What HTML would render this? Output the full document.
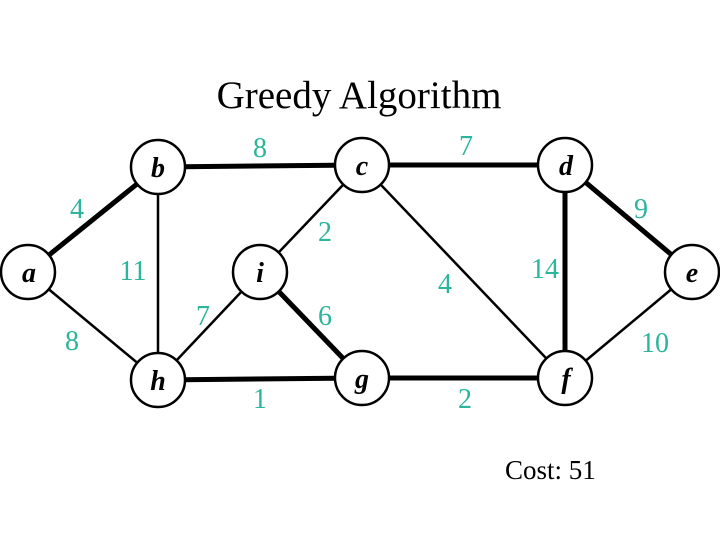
<!DOCTYPE html>
<html><head><meta charset="utf-8"><style>
html,body{margin:0;padding:0;background:#fff}
svg{display:block}
.t{font-family:"Liberation Serif",serif;fill:#2bb59a;font-size:28px}
.n{font-family:"Liberation Serif",serif;font-weight:bold;font-style:italic;font-size:28px;fill:#000}
</style></head><body>
<svg width="720" height="540" viewBox="0 0 720 540">
<text x="359" y="108" text-anchor="middle" font-family="Liberation Serif,serif" font-size="39">Greedy Algorithm</text>
<g stroke="#000" stroke-linecap="round">
<g stroke-width="5">
<line x1="28" y1="272" x2="158" y2="167"/>
<line x1="158" y1="167" x2="362" y2="165"/>
<line x1="362" y1="165" x2="565" y2="165"/>
<line x1="565" y1="165" x2="692" y2="272"/>
<line x1="565" y1="165" x2="565" y2="378"/>
<line x1="260" y1="272" x2="362" y2="378"/>
<line x1="158" y1="380" x2="362" y2="378"/>
<line x1="362" y1="378" x2="565" y2="378"/>
</g>
<g stroke-width="2.5">
<line x1="28" y1="272" x2="158" y2="380"/>
<line x1="158" y1="167" x2="158" y2="380"/>
<line x1="260" y1="272" x2="362" y2="165"/>
<line x1="260" y1="272" x2="158" y2="380"/>
<line x1="362" y1="165" x2="565" y2="378"/>
<line x1="565" y1="378" x2="692" y2="272"/>
</g>
</g>
<g fill="#fff" stroke="#000" stroke-width="2.5">
<ellipse cx="28" cy="272" rx="27" ry="27"/>
<ellipse cx="158" cy="167" rx="27" ry="27"/>
<ellipse cx="362" cy="165" rx="27" ry="27"/>
<ellipse cx="565" cy="165" rx="27" ry="27"/>
<ellipse cx="692" cy="272" rx="27" ry="27"/>
<ellipse cx="260" cy="272" rx="27" ry="27"/>
<ellipse cx="158" cy="380" rx="27" ry="27"/>
<ellipse cx="362" cy="378" rx="27" ry="27"/>
<ellipse cx="565" cy="378" rx="27" ry="27"/>
</g>
<g class="n" text-anchor="middle">
<text x="29" y="282" class="n">a</text>
<text x="158" y="177" class="n">b</text>
<text x="362" y="175" class="n">c</text>
<text x="566" y="175" class="n">d</text>
<text x="692" y="282" class="n">e</text>
<text x="260" y="282" class="n">i</text>
<text x="158" y="390" class="n">h</text>
<text x="362" y="388" class="n">g</text>
<text x="566" y="388" class="n">f</text>
</g>
<g class="t" text-anchor="middle">
<text x="77" y="218" class="t">4</text>
<text x="260" y="157" class="t">8</text>
<text x="466" y="155" class="t">7</text>
<text x="641" y="218" class="t">9</text>
<text x="325" y="241" class="t">2</text>
<text x="133" y="280" class="t">11</text>
<text x="545" y="278" class="t">14</text>
<text x="445" y="293" class="t">4</text>
<text x="203" y="325" class="t">7</text>
<text x="325" y="325" class="t">6</text>
<text x="72" y="350" class="t">8</text>
<text x="655" y="352" class="t">10</text>
<text x="260" y="408" class="t">1</text>
<text x="465" y="408" class="t">2</text>
</g>
<text x="505" y="479" font-family="Liberation Serif,serif" font-size="27">Cost: 51</text>
</svg>
</body></html>
